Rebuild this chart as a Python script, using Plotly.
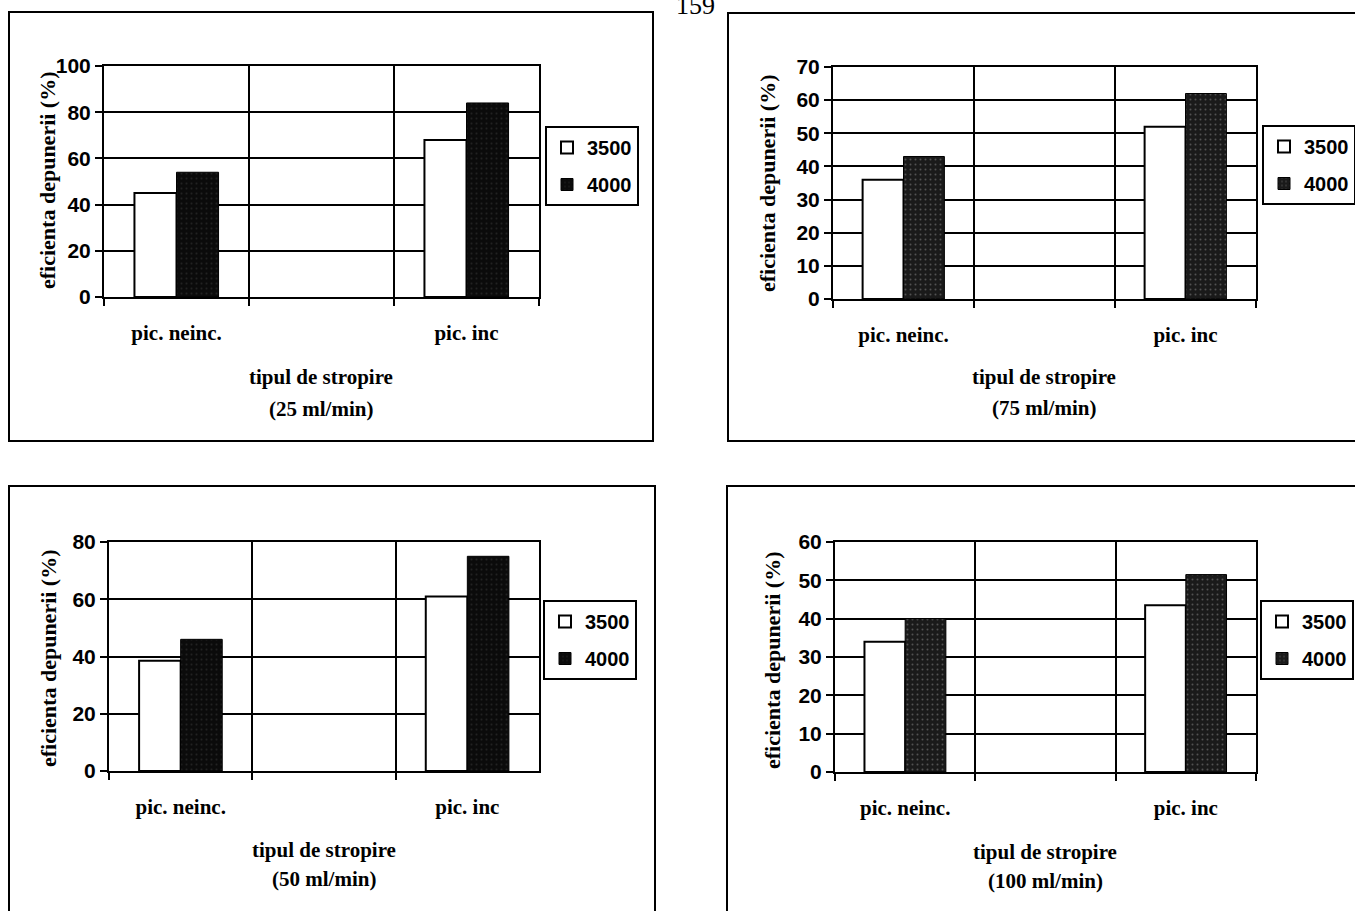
import plotly.graph_objects as go

W, H = 1355, 911

# Data: spray deposition efficiency (%) per spray type, for two rotation speeds
categories = ["pic. neinc.", " ", "pic. inc"]
bar_categories = ["pic. neinc.", "pic. inc"]
series_names = ["3500", "4000"]
flow_labels = ["(25 ml/min)", "(75 ml/min)", "(50 ml/min)", "(100 ml/min)"]

eff_25_3500 = [45, 68]
eff_25_4000 = [54, 84]
eff_75_3500 = [36, 52]
eff_75_4000 = [43, 62]
eff_50_3500 = [38.5, 61]
eff_50_4000 = [46, 75]
eff_100_3500 = [34, 43.5]
eff_100_4000 = [40, 51.5]

y_max = [100, 70, 80, 60]
y_step = [20, 10, 20, 10]

values = [
    (eff_25_3500, eff_25_4000),
    (eff_75_3500, eff_75_4000),
    (eff_50_3500, eff_50_4000),
    (eff_100_3500, eff_100_4000),
]

# Panel geometry in pixels: plot area, outer frame, legend anchor, titles
panels = [
    dict(plot=(104, 539, 66, 297), frame=(9, 653, 12, 441), legend=(545, 126),
         ytitle=(47, 180), xtitle=(321, 377, 409), speck="#3a3a3a", dark="#0b0b0b"),
    dict(plot=(833, 1256, 67, 299), frame=(728, 1370, 13, 441), legend=(1262, 125),
         ytitle=(768, 183), xtitle=(1044, 377, 408), speck="#8a8a8a", dark="#1a1a1a"),
    dict(plot=(109, 539, 542, 771), frame=(9, 655, 486, 930), legend=(543, 600),
         ytitle=(48, 658), xtitle=(324, 850, 879), speck="#3a3a3a", dark="#0b0b0b"),
    dict(plot=(835, 1256, 542, 772), frame=(727, 1370, 486, 930), legend=(1260, 600),
         ytitle=(772, 660), xtitle=(1045, 852, 881), speck="#8a8a8a", dark="#1a1a1a"),
]

SANS = "Liberation Sans"
SERIF = "Liberation Serif"


def px(x):
    return x / W


def py(y):
    return 1 - y / H


fig = go.Figure()
layout = dict(
    width=W, height=H,
    margin=dict(l=0, r=0, t=0, b=0, pad=0, autoexpand=False),
    paper_bgcolor="white", plot_bgcolor="white",
    barmode="group", bargap=0.42, bargroupgap=0,
    showlegend=True, shapes=[], annotations=[],
)

for i, (p, (s3500, s4000)) in enumerate(zip(panels, values)):
    n = "" if i == 0 else str(i + 1)
    xa, ya, lg = "x" + n, "y" + n, "legend" + n

    fig.add_trace(go.Bar(
        x=bar_categories, y=s3500, name=series_names[0],
        xaxis=xa, yaxis=ya, legend=lg, legendgroup="a",
        marker=dict(color="white", line=dict(color="black", width=2)),
    ))
    fig.add_trace(go.Bar(
        x=bar_categories, y=s4000, name=series_names[1],
        xaxis=xa, yaxis=ya, legend=lg, legendgroup="b",
        marker=dict(color=p["dark"], line=dict(color="black", width=1),
                    pattern=dict(shape=".", fgcolor=p["speck"], bgcolor=p["dark"],
                                 size=5, solidity=0.12)),
    ))

    x0, x1, y0, y1 = p["plot"]
    layout["xaxis" + n] = dict(
        domain=[px(x0), px(x1)], anchor=ya, automargin=False,
        type="category", categoryorder="array", categoryarray=categories,
        range=[-0.5, 2.5], tickson="boundaries",
        showgrid=True, gridcolor="black", gridwidth=2,
        showline=True, linecolor="black", linewidth=2, mirror=True,
        ticks="outside", ticklen=7, tickwidth=2, tickcolor="black",
        ticklabelstandoff=16,
        tickfont=dict(family=SERIF, size=21, color="black", weight="bold"),
        fixedrange=True,
    )
    layout["yaxis" + n] = dict(
        domain=[py(y1), py(y0)], anchor=xa, automargin=False,
        range=[0, y_max[i]], dtick=y_step[i], tick0=0,
        showgrid=True, gridcolor="black", gridwidth=2, zeroline=False,
        showline=True, linecolor="black", linewidth=2, mirror=True,
        ticks="outside", ticklen=7, tickwidth=2, tickcolor="black",
        tickfont=dict(family=SANS, size=21, color="black", weight="bold"),
        fixedrange=True,
    )

    lx, ly = p["legend"]
    layout[lg] = dict(
        x=px(lx), y=py(ly), xanchor="left", yanchor="top",
        xref="paper", yref="paper",
        bgcolor="white", bordercolor="black", borderwidth=2,
        font=dict(family=SANS, size=20, color="black", weight="bold"),
        traceorder="grouped", tracegroupgap=8, itemwidth=30,
    )

    fx0, fx1, fy0, fy1 = p["frame"]
    layout["shapes"].append(dict(
        type="rect", xref="paper", yref="paper",
        x0=px(fx0), x1=px(fx1), y0=py(fy1), y1=py(fy0),
        line=dict(color="black", width=2), fillcolor="rgba(0,0,0,0)", layer="below",
    ))

    tx, ty = p["ytitle"]
    layout["annotations"].append(dict(
        text="eficienta depunerii (%)", textangle=-90,
        x=px(tx), y=py(ty), xref="paper", yref="paper",
        xanchor="center", yanchor="middle", showarrow=False,
        font=dict(family=SERIF, size=22, color="black", weight="bold"),
    ))
    cx, l1, l2 = p["xtitle"]
    for txt, yy in (("tipul de stropire", l1), (flow_labels[i], l2)):
        layout["annotations"].append(dict(
            text=txt, x=px(cx), y=py(yy), xref="paper", yref="paper",
            xanchor="center", yanchor="middle", showarrow=False,
            font=dict(family=SERIF, size=21, color="black", weight="bold"),
        ))

# page number at the top edge of the page
layout["annotations"].append(dict(
    text="159", x=px(695), y=py(22), xref="paper", yref="paper",
    xanchor="center", yanchor="bottom", showarrow=False,
    font=dict(family=SERIF, size=26, color="black"),
))

fig.update_layout(**layout)
fig.write_html("out.html")
